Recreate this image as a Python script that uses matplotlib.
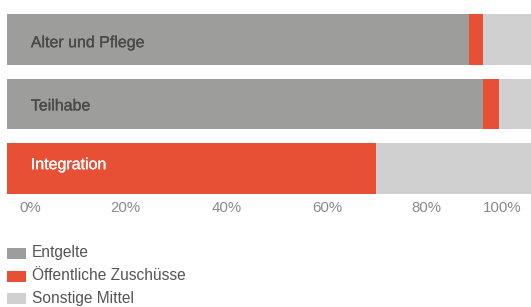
import matplotlib
matplotlib.use("Agg")
import matplotlib.pyplot as plt
import matplotlib.patheffects as pe
from matplotlib.patches import Rectangle

categories = ["Alter und Pflege", "Teilhabe", "Integration"]
series_names = ["Entgelte", "Öffentliche Zuschüsse", "Sonstige Mittel"]
entgelte = [88.2, 90.9, 0.0]
zuschuesse = [2.7, 3.0, 70.4]
sonstige = [9.1, 6.1, 29.6]
tick_labels = ["0%", "20%", "40%", "60%", "80%", "100%"]

colors = ["#9d9d9b", "#e85036", "#d0d0d0"]
label_colors = ["#4a4a4a", "#4a4a4a", "#ffffff"]

W, H = 531, 307
fig = plt.figure(figsize=(W / 100, H / 100), dpi=100)
plt.rcParams["font.family"] = ["Liberation Sans", "DejaVu Sans"]

def px(x0, y0, x1, y1):
    return [x0 / W, 1 - y1 / H, (x1 - x0) / W, (y1 - y0) / H]

ax = fig.add_axes(px(7, 14, 531, 194))
ypos = list(range(len(categories)))
left = [0.0] * len(categories)
for vals, c, name in zip([entgelte, zuschuesse, sonstige], colors, series_names):
    ax.barh(ypos, vals, left=left, height=0.79, color=c, label=name, linewidth=0)
    left = [l + v for l, v in zip(left, vals)]
ax.set_xlim(0, 100)
ax.set_ylim(2.395, -0.395)
ax.axis("off")

label_dy = [0.05, 0.03, -0.06]
for i, cat in enumerate(categories):
    ax.text(4.55, i + label_dy[i], cat, va="center", ha="left", fontsize=11.5,
            color=label_colors[i],
            path_effects=[pe.withStroke(linewidth=0.2, foreground=label_colors[i])])

# x tick labels row
tick_x = [30, 125, 227, 327, 426, 502]
for tx, tl in zip(tick_x, tick_labels):
    fig.text(tx / W, 1 - 208 / H, tl, ha="center", va="center", fontsize=10.8, color="#8a8a8a")

# legend
leg_y = [253, 276, 298]
for yy, c, name in zip(leg_y, colors, series_names):
    fig.add_artist(Rectangle((7 / W, 1 - (yy + 5.5) / H), 19 / W, 11 / H,
                             transform=fig.transFigure, color=c, linewidth=0))
    fig.text(32 / W, 1 - yy / H, name, ha="left", va="center", fontsize=11.2, color="#555555")

fig.savefig("out.png", dpi=100)
